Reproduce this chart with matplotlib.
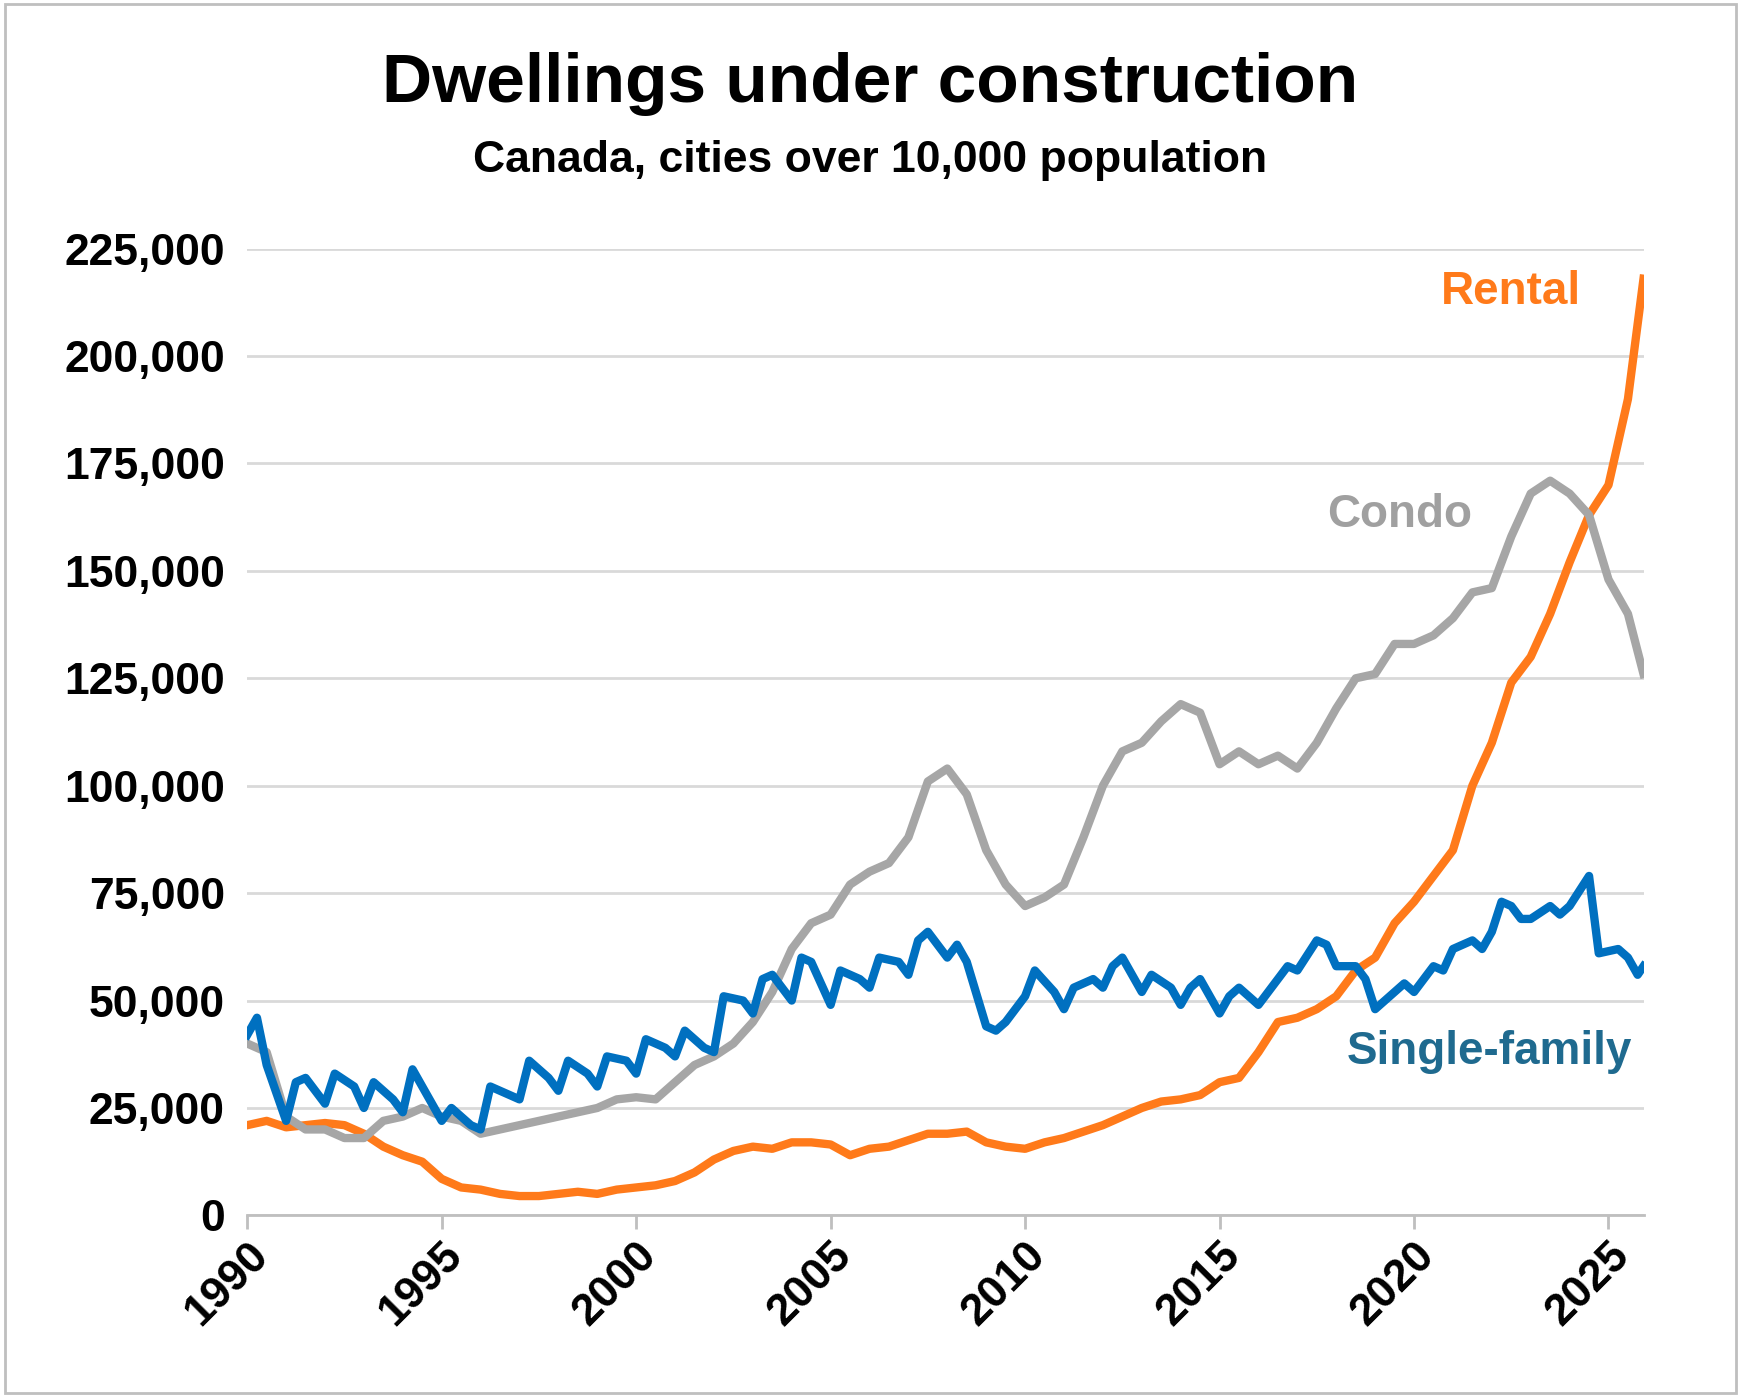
import matplotlib.pyplot as plt
from matplotlib.ticker import FuncFormatter

plt.rcParams['font.family'] = ['Liberation Sans', 'DejaVu Sans']

rental_t = [1990, 1990.5, 1991, 1991.5, 1992, 1992.5, 1993, 1993.5, 1994, 1994.5, 1995, 1995.5, 1996, 1996.5,
            1997, 1997.5, 1998, 1998.5, 1999, 1999.5, 2000, 2000.5, 2001, 2001.5, 2002, 2002.5, 2003, 2003.5,
            2004, 2004.5, 2005, 2005.5, 2006, 2006.5, 2007, 2007.5, 2008, 2008.5, 2009, 2009.5, 2010, 2010.5,
            2011, 2011.5, 2012, 2012.5, 2013, 2013.5, 2014, 2014.5, 2015, 2015.5, 2016, 2016.5, 2017, 2017.5,
            2018, 2018.5, 2019, 2019.5, 2020, 2020.5, 2021, 2021.5, 2022, 2022.5, 2023, 2023.5, 2024, 2024.5,
            2025, 2025.5, 2025.9]
rental = [21, 22, 20.5, 21, 21.5, 21, 19, 16, 14, 12.5, 8.5, 6.5, 6, 5, 4.5, 4.5, 5, 5.5, 5, 6, 6.5, 7, 8, 10,
          13, 15, 16, 15.5, 17, 17, 16.5, 14, 15.5, 16, 17.5, 19, 19, 19.5, 17, 16, 15.5, 17, 18, 19.5, 21, 23,
          25, 26.5, 27, 28, 31, 32, 38, 45, 46, 48, 51, 57, 60, 68, 73, 79, 85, 100, 110, 124, 130, 140, 152, 163,
          170, 190, 218]

condo_t = rental_t
condo = [40, 38, 23, 20, 20, 18, 18, 22, 23, 25, 23, 22, 19, 20, 21, 22, 23, 24, 25, 27, 27.5, 27, 31, 35,
         37, 40, 45, 52, 62, 68, 70, 77, 80, 82, 88, 101, 104, 98, 85, 77, 72, 74, 77, 88, 100, 108, 110, 115,
         119, 117, 105, 108, 105, 107, 104, 110, 118, 125, 126, 133, 133, 135, 139, 145, 146, 158, 168, 171,
         168, 163, 148, 140, 126]

single_t = [1990, 1990.25, 1990.5, 1991, 1991.25, 1991.5, 1992, 1992.25, 1992.75, 1993, 1993.25, 1993.75, 1994,
            1994.25, 1995, 1995.25, 1995.75, 1996, 1996.25, 1997, 1997.25, 1997.75, 1998, 1998.25, 1998.75, 1999,
            1999.25, 1999.75, 2000, 2000.25, 2000.75, 2001, 2001.25, 2001.75, 2002, 2002.25, 2002.75, 2003,
            2003.25, 2003.5, 2004, 2004.25, 2004.5, 2005, 2005.25, 2005.75, 2006, 2006.25, 2006.75, 2007, 2007.25,
            2007.5, 2008, 2008.25, 2008.5, 2009, 2009.25, 2009.5, 2010, 2010.25, 2010.75, 2011, 2011.25, 2011.75,
            2012, 2012.25, 2012.5, 2013, 2013.25, 2013.75, 2014, 2014.25, 2014.5, 2015, 2015.25, 2015.5, 2016,
            2016.5, 2016.75, 2017, 2017.5, 2017.75, 2018, 2018.5, 2018.75, 2019, 2019.5, 2019.75, 2020, 2020.5,
            2020.75, 2021, 2021.5, 2021.75, 2022, 2022.25, 2022.5, 2022.75, 2023, 2023.5, 2023.75, 2024, 2024.5,
            2024.75, 2025.25, 2025.5, 2025.75, 2025.9]
single = [42, 46, 35, 22, 31, 32, 26, 33, 30, 25, 31, 27, 24, 34, 22, 25, 21, 20, 30, 27, 36, 32, 29, 36, 33,
          30, 37, 36, 33, 41, 39, 37, 43, 39, 38, 51, 50, 47, 55, 56, 50, 60, 59, 49, 57, 55, 53, 60, 59, 56, 64,
          66, 60, 63, 59, 44, 43, 45, 51, 57, 52, 48, 53, 55, 53, 58, 60, 52, 56, 53, 49, 53, 55, 47, 51, 53, 49,
          55, 58, 57, 64, 63, 58, 58, 55, 48, 52, 54, 52, 58, 57, 62, 64, 62, 66, 73, 72, 69, 69, 72, 70, 72, 79,
          61, 62, 60, 56, 58]

fig = plt.figure(figsize=(17.41, 13.97), dpi=100)
ax = fig.add_axes([0.142, 0.13, 0.802, 0.692])

ax.plot(rental_t, [v * 1000 for v in rental], color='#FF7A1A', lw=6, solid_joinstyle='round')
ax.plot(condo_t, [v * 1000 for v in condo], color='#A6A6A6', lw=6, solid_joinstyle='round')
ax.plot(single_t, [v * 1000 for v in single], color='#0070C0', lw=6, solid_joinstyle='round')

ax.set_xlim(1990, 2025.9)
ax.set_ylim(0, 225000)
ax.set_yticks(range(0, 225001, 25000))
ax.yaxis.set_major_formatter(FuncFormatter(lambda v, p: f'{int(v):,}'))
ax.set_xticks(range(1990, 2026, 5))
ax.grid(axis='y', color='#D9D9D9', lw=2)
ax.set_axisbelow(True)
for s in ['top', 'right', 'left']:
    ax.spines[s].set_visible(False)
ax.spines['bottom'].set_color('#BFBFBF')
ax.spines['bottom'].set_linewidth(2)
ax.tick_params(axis='y', length=0, labelsize=32, pad=16)
ax.tick_params(axis='x', length=10, width=2, color='#BFBFBF', labelsize=32)
for lab in ax.get_yticklabels():
    lab.set_fontweight('bold')
for lab in ax.get_xticklabels():
    lab.set_fontweight('bold')
    lab.set_rotation(45)
    lab.set_ha('right')
    lab.set_rotation_mode('anchor')

ax.text(2024.3, 215000, 'Rental', color='#FF7A1A', fontsize=33, fontweight='bold', ha='right', va='center')
ax.text(2021.5, 163000, 'Condo', color='#A0A0A0', fontsize=33, fontweight='bold', ha='right', va='center')
ax.text(2025.6, 38000, 'Single-family', color='#1F6A8F', fontsize=33, fontweight='bold', ha='right', va='center')

fig.text(0.5, 0.94, 'Dwellings under construction', fontsize=50, fontweight='bold', ha='center', va='center')
fig.text(0.5, 0.885, 'Canada, cities over 10,000 population', fontsize=32, fontweight='bold', ha='center', va='center')

fig.patches.append(plt.Rectangle((0.003, 0.003), 0.994, 0.994, transform=fig.transFigure,
                                 fill=False, edgecolor='#BFBFBF', lw=2))

fig.savefig('out.png', dpi=100)
